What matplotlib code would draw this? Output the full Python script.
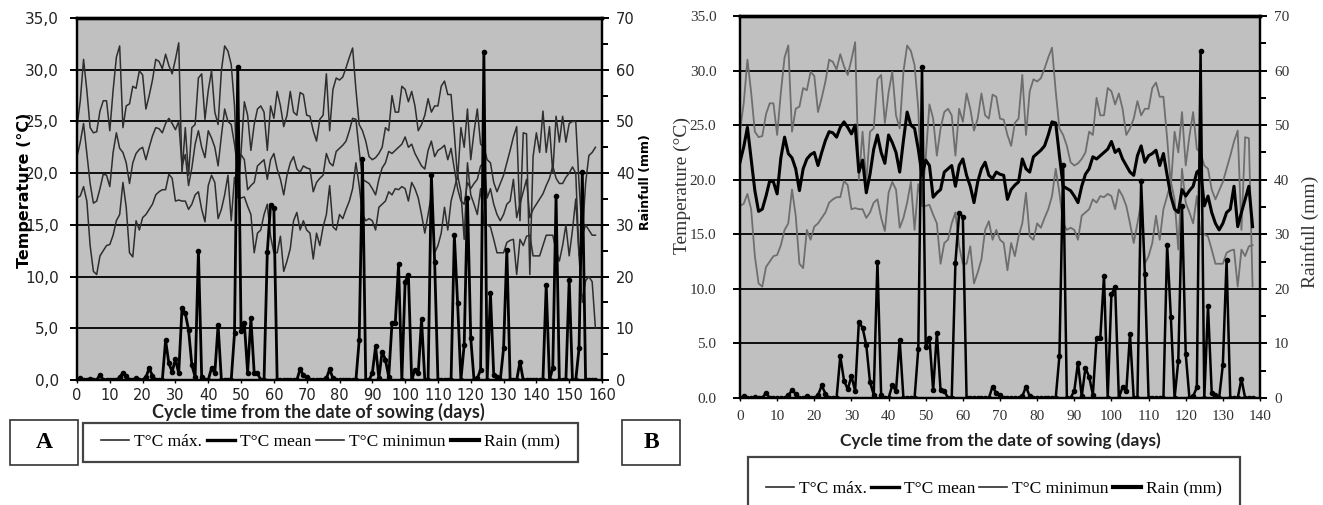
import matplotlib
matplotlib.use('Agg')
import matplotlib.pyplot as plt
from matplotlib.lines import Line2D
from matplotlib.patches import Rectangle

# ---------------- data (daily values) ----------------
tmax = [24.5, 27, 31, 28, 24.4, 23.9, 24, 26, 27, 27,
        24.1, 28, 31.2, 32.3, 24.4, 26.5, 26.7, 28.4, 28.2, 29.9,
        29.5, 26.2, 27.5, 29, 31, 30.8, 30.1, 31.5, 30.4, 29.6,
        31, 32.6, 20, 24.4, 19.8, 24.4, 24.7, 29.2, 29.6, 25.2,
        28, 29.9, 25.9, 24.7, 29.9, 32.3, 31.8, 30.5, 26.5, 17.9,
        22, 26.9, 25.6, 22.2, 24.7, 26.2, 26.5, 25.9, 22.2, 26.5,
        25.3, 27.9, 26.5, 24.5, 25.6, 27.9, 25.9, 25.6, 27.8, 27.6,
        25.6, 25.5, 24.1, 23.1, 25.2, 25.6, 29.6, 24.1, 28.1, 29.2,
        29, 29.3, 30.2, 31.2, 32.1, 28.1, 24.7, 24.1, 23.1, 21.6,
        21.3, 21.5, 21.9, 22.5, 24.4, 24.1, 27.5, 25.9, 25.9, 28.4,
        28.1, 26.9, 27.9, 26.5, 24.1, 24.7, 25.6, 27.2, 25.9, 26.5,
        26.5, 28.4, 28.9, 27.6, 27.6, 23.8, 19.4, 24.4, 22.5, 26.2,
        21.3, 24, 26.2, 22.8, 22.5, 21.3, 21, 19.1, 18.2, 19,
        19.8, 21, 22.2, 23.5, 24.5, 15.4, 23.9, 23.8, 10.2, 21.6,
        23.9, 22, 26, 22, 24.5, 20, 25.5, 23, 25.5, 23,
        24.8, 25, 25, 19, 14, 19, 21.7, 22, 22.5]

tmean = [21.6, 23, 24.8, 21.9, 19, 17.1, 17.3, 18.5, 19.9, 19.8,
         18.7, 22, 23.9, 22.4, 22, 21, 19, 21, 21.9, 22.3,
         22.5, 21.3, 22.5, 23.6, 24.4, 24.3, 23.9, 24.8, 25.3, 24.8,
         24.2, 25, 20.7, 21.8, 18.8, 20.5, 22.8, 24.1, 22.5, 21.5,
         24.1, 23.4, 22.5, 20.7, 23.6, 26.2, 25, 24.7, 22.8, 20.4,
         21.8, 21.3, 18.4, 18.8, 19.1, 20.7, 21, 21.3, 19.4, 21.3,
         21.9, 20.4, 19.4, 17.9, 19.8, 21, 21.6, 20.4, 20.1, 20.7,
         20.5, 20.4, 18.2, 19.1, 19.5, 19.8, 21.9, 21, 20.7, 22.1,
         22.4, 22.7, 23.1, 24.1, 25.3, 25.2, 22.2, 19.4, 19.2, 19,
         18.5, 17.9, 19.4, 20.5, 21, 22.1, 21.9, 22.2, 22.5, 22.8,
         23.5, 22.5, 22.8, 21.9, 21.3, 20.7, 20.4, 22.2, 23.1, 21.6,
         22.2, 22.4, 22.7, 21.3, 22.4, 20.4, 18.5, 17.3, 17, 19.1,
         18.5, 19, 19.4, 20.7, 21, 17.6, 18.5, 17, 16, 15.4,
         16, 17, 17.3, 19.4, 15.7, 17, 18.2, 19.4, 15.7, 16.5,
         17, 17.5, 18, 18.8, 19.5, 20.7, 19.5, 19, 19, 19.6,
         20, 20.6, 20, 12, 14, 15, 14.5, 14, 14]

tmin = [17.6, 17.8, 18.7, 17.3, 13, 10.5, 10.2, 12, 12.5, 13,
        13.1, 14, 15.4, 16, 19.1, 16.7, 12.3, 11.9, 15.4, 14.5,
        15.7, 16, 16.5, 17, 17.9, 18.2, 18.4, 18.4, 19.9, 19.5,
        17.3, 17.4, 17.3, 17.3, 16.5, 17, 17.9, 18.2, 16.5, 15.3,
        18.8, 19.8, 19.1, 15.6, 16.5, 17.9, 19.8, 15.4, 19.6, 17.6,
        17.6, 17.7, 16.8, 16, 12.3, 14.2, 14.5, 16, 17, 13.9,
        12.3, 12.3, 13.9, 10.5, 11.5, 12.7, 15.4, 16.2, 14.5, 15.4,
        14.5, 14.2, 11.7, 14.2, 13, 14.8, 16, 18.8, 14.8, 14.5,
        16, 15.6, 16.5, 17.3, 18.5, 21, 18.8, 16, 15.4, 15.6,
        15.4, 14.5, 16.7, 17, 17.3, 18.2, 17.9, 18.5, 18.4, 18.7,
        18.5, 17.3, 19.1, 18.5, 17.6, 16, 14.2, 16, 17.9, 12.3,
        13, 14.2, 16.7, 14.5, 17.3, 18.5, 19.8, 18.2, 13.6, 21,
        17.9, 17, 16, 18.5, 15.1, 15, 14.8, 13.6, 12.3, 12.3,
        12.3, 13.3, 13.5, 13.6, 10.2, 13.6, 13, 13.9, 14, 12,
        12, 12, 13, 14, 14, 14, 12.5, 11.5, 13, 15,
        12, 14.5, 17.5, 12, 7.5, 9.6, 10, 9.5, 5]

rain = [0, 0.3, 0, 0, 0.2, 0, 0, 1, 0, 0,
        0, 0, 0, 0.5, 1.4, 0.8, 0, 0, 0.3, 0,
        0, 0.5, 2.3, 0.8, 0, 0, 0, 7.7, 3.2, 1.6,
        4, 1.3, 13.9, 12.9, 9.7, 2.9, 0.6, 25, 0.5, 0,
        0, 2.3, 1.3, 10.6, 0, 0, 0, 0, 9, 60.6,
        9.4, 11, 1.4, 11.9, 1.4, 1.3, 0, 0, 24.8, 33.9,
        33.2, 0, 0, 0, 0, 0, 0, 0, 2.1, 0.9,
        0.5, 0, 0, 0, 0, 0, 0.3, 2.1, 0.3, 0,
        0, 0, 0, 0, 0, 0, 7.7, 42.7, 0, 0,
        1.3, 6.5, 0.3, 5.5, 3.9, 0.6, 11, 11, 22.4, 0,
        19, 20.3, 0, 2, 1.3, 11.7, 0, 0, 39.7, 22.8,
        0, 0, 0, 0, 0, 28, 14.8, 0, 6.8, 35.2,
        8.1, 0, 0.3, 2, 63.5, 0, 16.8, 1, 0.6, 0,
        6.1, 25.2, 0, 0, 0, 3.5, 0, 0, 0, 0,
        0, 0, 0, 18.4, 0, 2.3, 35.5, 0, 0, 0,
        19.4, 0, 0, 6.1, 40.3, 0, 0, 0, 0]

days = list(range(len(tmax)))
n_days_b = 139

temp_ticks = [0, 5, 10, 15, 20, 25, 30, 35]
temp_labels_a = ['0,0', '5,0', '10,0', '15,0', '20,0', '25,0', '30,0', '35,0']
temp_labels_b = ['0.0', '5.0', '10.0', '15.0', '20.0', '25.0', '30.0', '35.0']
rain_ticks = [0, 10, 20, 30, 40, 50, 60, 70]
rain_minor = [5, 15, 25, 35, 45, 55, 65]
xticks_a = [0, 10, 20, 30, 40, 50, 60, 70, 80, 90, 100, 110, 120, 130, 140, 150, 160]
xticks_b = [0, 10, 20, 30, 40, 50, 60, 70, 80, 90, 100, 110, 120, 130, 140]
legend_labels = ['T°C máx.', 'T°C mean', 'T°C minimun', 'Rain (mm)']
xlabel = 'Cycle time from the date of sowing (days)'

# ---------------- figure ----------------
W, H = 1323, 505
fig = plt.figure(figsize=(W / 100, H / 100), dpi=100)
fig.patch.set_facecolor('white')


def fx(px):
    return px / W


def fy(py):
    return 1 - py / H


BG = '#c0c0c0'
SANS = ['DejaVu Sans']
SERIF = ['Liberation Serif', 'DejaVu Serif']
LATO = ['Lato', 'DejaVu Sans']


def style_axes(ax, ax2, xmax, ypad):
    ax.set_facecolor(BG)
    ax.set_xlim(0, xmax)
    ax.set_ylim(0, 35)
    ax2.set_ylim(0, 70)
    ax.set_yticks(temp_ticks)
    ax2.set_yticks(rain_ticks)
    ax2.set_yticks(rain_minor, minor=True)
    ax.grid(axis='y', color='black', lw=1.3)
    ax.set_axisbelow(True)
    for a in (ax, ax2):
        a.spines['top'].set_linewidth(2.4)
        a.spines['left'].set_linewidth(1.6)
        a.spines['right'].set_linewidth(1.6)
        a.spines['bottom'].set_linewidth(1.6)
    ax.tick_params(axis='y', direction='out', length=5, width=1.4, pad=ypad)
    ax2.tick_params(axis='y', which='major', direction='out', length=5, width=1.4, pad=5)
    ax2.tick_params(axis='y', which='minor', direction='out', length=4, width=1.4)
    ax.tick_params(axis='x', direction='out', length=2, width=1, pad=4)


# ---------------- panel A ----------------
axA = fig.add_axes([fx(77), fy(380), fx(602 - 77), (380 - 18) / H])
axA2 = axA.twinx()
style_axes(axA, axA2, 160, 8)
axA.set_xticks(xticks_a)
axA.set_xticklabels([str(v) for v in xticks_a], fontsize=10.5, family=SANS, color='#222')
axA.set_yticklabels(temp_labels_a, fontsize=11, family=SANS, color='#222')
axA2.set_yticklabels([str(v) for v in rain_ticks], fontsize=10.5, family=SANS, color='#222')

LA = '#2e2e2e'
axA.plot(days, tmax, color=LA, lw=1.1)
axA.plot(days, tmean, color=LA, lw=1.1)
axA.plot(days, tmin, color=LA, lw=1.1)
axA2.plot(days, rain, color='black', lw=2.0, marker='o', ms=3)
axA2.set_zorder(axA.get_zorder() + 1)
axA2.patch.set_visible(False)

fig.text(fx(25), fy(190), 'Temperature (°C)', rotation=90, ha='center', va='center',
         fontsize=11.5, fontweight='bold', family=SANS)
fig.text(fx(645), fy(182), 'Rainfull (mm)', rotation=90, ha='center', va='center',
         fontsize=9, fontweight='bold', family=SANS)
fig.text(fx(318), fy(412), xlabel, ha='center', va='center',
         fontsize=13, fontweight='bold', family=LATO, color='#222')

# ---------------- panel B ----------------
axB = fig.add_axes([fx(740), fy(398), fx(1260 - 740), (398 - 16) / H])
axB2 = axB.twinx()
style_axes(axB, axB2, 140, 12)
axB.set_xticks(xticks_b)
axB.set_xticklabels([str(v) for v in xticks_b], fontsize=11, family=SERIF, color='#333')
axB.tick_params(axis='x', pad=7)
axB.set_yticklabels(temp_labels_b, fontsize=11, family=SERIF, color='#333')
axB2.set_yticklabels([str(v) for v in rain_ticks], fontsize=11, family=SERIF, color='#333')

LG = '#6e6e6e'
axB.plot(days[:n_days_b], tmax[:n_days_b], color=LG, lw=1.3)
axB.plot(days[:n_days_b], tmin[:n_days_b], color=LG, lw=1.3)
axB.plot(days[:n_days_b], tmean[:n_days_b], color='black', lw=2.2)
axB2.plot(days[:n_days_b], rain[:n_days_b], color='black', lw=1.8, marker='o', ms=3)
axB2.set_zorder(axB.get_zorder() + 1)
axB2.patch.set_visible(False)

fig.text(fx(682), fy(185), 'Temperature (°C)', rotation=90, ha='center', va='center',
         fontsize=14, family=SERIF, color='#333')
fig.text(fx(1310), fy(232), 'Rainfull (mm)', rotation=90, ha='center', va='center',
         fontsize=14, family=SERIF, color='#333')
fig.text(fx(1000), fy(441), xlabel, ha='center', va='center',
         fontsize=12.5, fontweight='bold', family=LATO, color='#222')

# ---------------- panel letters ----------------
for (x0, x1, y0, y1, letter) in [(10, 78, 420, 465, 'A'), (622, 680, 420, 465, 'B')]:
    fig.patches.append(Rectangle((fx(x0), fy(y1)), fx(x1 - x0), (y1 - y0) / H,
                                 transform=fig.transFigure, fill=False,
                                 edgecolor='#333', lw=1.2))
    fig.text(fx((x0 + x1) / 2), fy((y0 + y1) / 2), letter, ha='center', va='center',
             fontsize=17, fontweight='bold', family=SERIF)

# ---------------- legends ----------------
handles = [Line2D([], [], color=LA, lw=1.2),
           Line2D([], [], color='black', lw=2.4),
           Line2D([], [], color=LA, lw=1.2),
           Line2D([], [], color='black', lw=3)]


def add_legend(x0, x1, y0, y1, ytext):
    fig.patches.append(Rectangle((fx(x0), fy(y1)), fx(x1 - x0), (y1 - y0) / H,
                                 transform=fig.transFigure, fill=False,
                                 edgecolor='#444', lw=1.6))
    leg = fig.legend(handles, legend_labels, ncol=4, loc='center',
                     bbox_to_anchor=(fx(x0 + 6), fy(ytext + 15), fx(x1 - x0 - 12), 30 / H),
                     mode='expand', frameon=False,
                     prop={'family': SERIF, 'size': 12.5},
                     handlelength=1.6, handletextpad=0.3, borderpad=0.2,
                     columnspacing=0.6)
    return leg


add_legend(83, 578, 423, 462, 442)
add_legend(748, 1240, 457, 520, 489)

fig.savefig('out.png', dpi=100, facecolor='white')
